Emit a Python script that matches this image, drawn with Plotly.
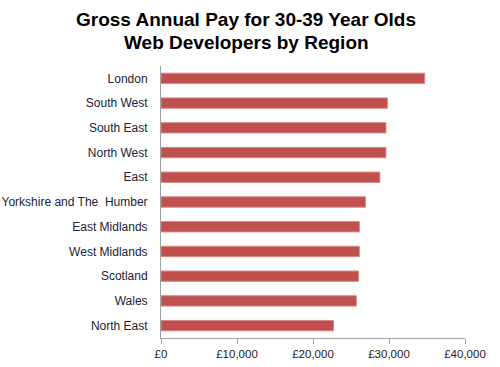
import plotly.graph_objects as go

regions = ["London", "South West", "South East", "North West", "East",
           "Yorkshire and The  Humber", "East Midlands", "West Midlands",
           "Scotland", "Wales", "North East"]
pay = [34700, 29800, 29600, 29600, 28800, 26900, 26100, 26100, 26000, 25700, 22700]
tick_vals = [0, 10000, 20000, 30000, 40000]
tick_text = ["£0", "£10,000", "£20,000", "£30,000", "£40,000"]
title_lines = ["Gross Annual Pay for 30-39 Year Olds", "Web Developers by Region"]

fig = go.Figure(go.Bar(
    x=pay, y=regions, orientation="h",
    marker=dict(color="#C0504D", line=dict(color="#D98A88", width=1)),
))

title_font = dict(family="Liberation Sans, Arial, sans-serif", size=19, color="black", weight="bold")
annots = []
for line, ys in zip(title_lines, [47, 24]):
    annots.append(dict(
        text=line, xref="paper", yref="paper",
        x=0.5, y=1, xanchor="center", yanchor="middle", yshift=ys, xshift=-67,
        showarrow=False, font=title_font,
    ))

fig.update_layout(
    width=500, height=367,
    margin=dict(l=161, r=35, t=66, b=29, autoexpand=False),
    paper_bgcolor="white", plot_bgcolor="white",
    bargap=0.58,
    showlegend=False,
    font=dict(family="Liberation Sans, Arial, sans-serif", size=12, color="#333344"),
    annotations=annots,
    xaxis=dict(
        range=[0, 40000], tickvals=tick_vals, ticktext=tick_text,
        showgrid=False, zeroline=False, automargin=False,
        showline=True, linecolor="#A0A0A0", linewidth=1,
        ticks="outside", ticklen=5, tickcolor="#A0A0A0",
        tickfont=dict(size=11.5, color="#222222"),
    ),
    yaxis=dict(
        categoryorder="array", categoryarray=regions[::-1],
        showgrid=False, zeroline=False, automargin=False,
        showline=True, linecolor="#A0A0A0", linewidth=1,
        ticks="", ticklabelstandoff=10,
        tickfont=dict(size=12, color="#222233"),
    ),
)

fig.write_html("out.html", config={"displayModeBar": False},
               post_script="document.body.style.margin='0';document.body.style.overflow='hidden';")
